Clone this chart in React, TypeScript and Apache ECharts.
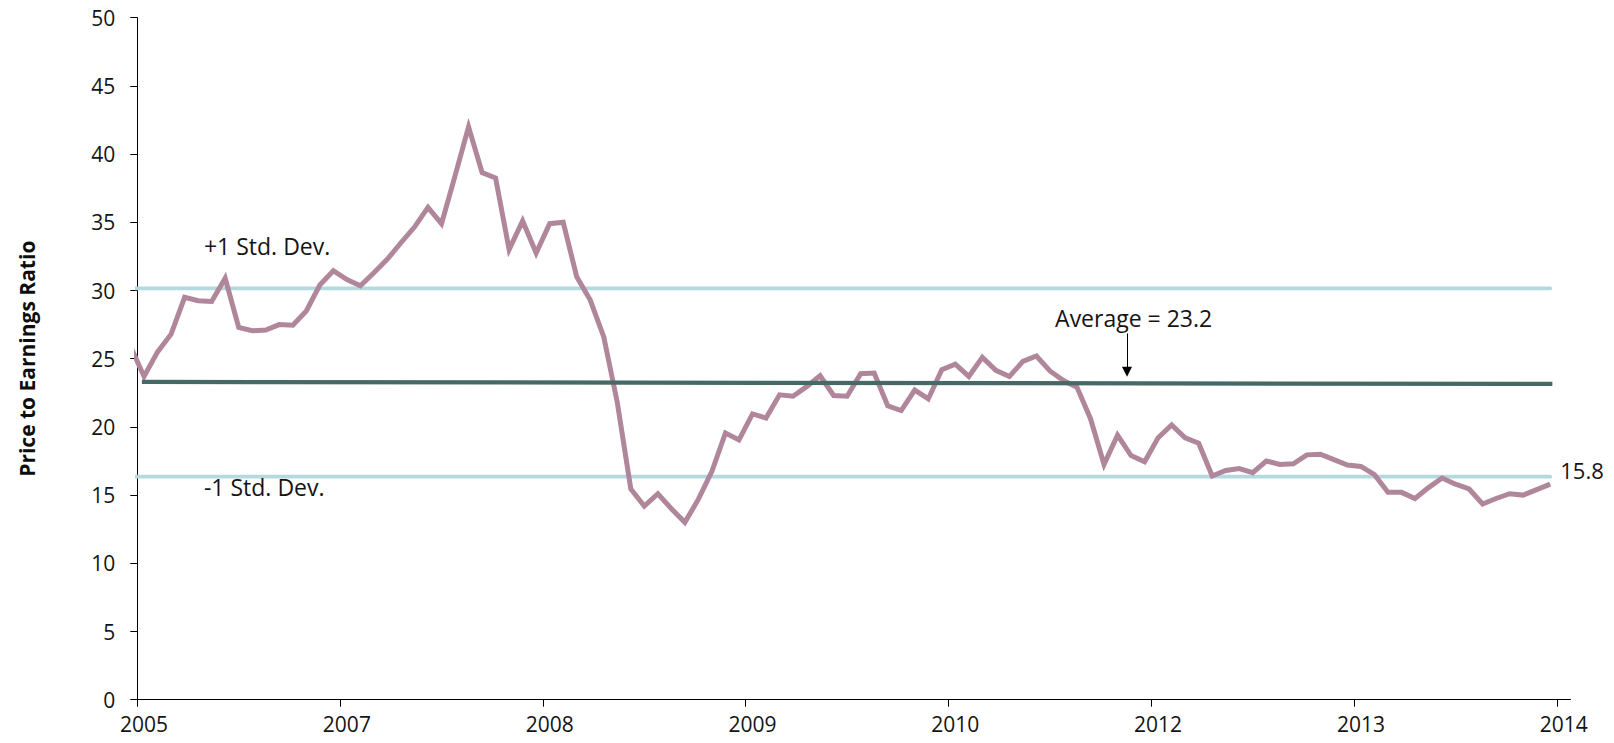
import React, { useEffect, useRef } from "react";
import * as echarts from "echarts";

// Axis layout in "category slots" (each slot = one observation)
const SLOT_COUNT = 106;
const TICK_EVERY = 15;
const YEAR_LABELS = ["2005", "2007", "2008", "2009", "2010", "2012", "2013", "2014"];
const Y_TICKS = [0, 5, 10, 15, 20, 25, 30, 35, 40, 45, 50];

// Price to Earnings ratio, one value per slot (first value sits just before the axis start)
const PE_VALUES = [
  25.9, 23.7, 25.5, 26.8, 29.5, 29.25, 29.2, 30.9, 27.3, 27.05,
  27.1, 27.5, 27.45, 28.5, 30.4, 31.45, 30.8, 30.35, 31.3, 32.3,
  33.5, 34.65, 36.1, 34.9, 38.4, 42.0, 38.65, 38.25, 33.0, 35.1,
  32.75, 34.9, 35.0, 31.0, 29.3, 26.6, 21.8, 15.45, 14.2, 15.1,
  14.0, 13.0, 14.7, 16.75, 19.55, 19.05, 20.95, 20.65, 22.35, 22.25,
  22.95, 23.75, 22.3, 22.25, 23.9, 23.95, 21.55, 21.2, 22.7, 22.05,
  24.2, 24.6, 23.7, 25.1, 24.15, 23.7, 24.8, 25.2, 24.1, 23.4,
  22.9, 20.6, 17.25, 19.4, 17.9, 17.45, 19.2, 20.15, 19.2, 18.8,
  16.4, 16.8, 16.95, 16.65, 17.5, 17.25, 17.3, 17.95, 18.0, 17.6,
  17.2, 17.1, 16.5, 15.2, 15.2, 14.75, 15.55, 16.25, 15.8, 15.45,
  14.35, 14.75, 15.1, 15.0, 15.4, 15.8,
];

const PLUS_ONE_SD = 30.15;
const MINUS_ONE_SD = 16.35;
const AVERAGE_START = 23.3;
const AVERAGE_END = 23.15;
const AVERAGE_LABEL = "Average = 23.2";
const PLUS_LABEL = "+1 Std. Dev.";
const MINUS_LABEL = "-1 Std. Dev.";

const FONT = "'Open Sans', 'DejaVu Sans', sans-serif";
const TEXT_COLOR = "#141414";
const PE_COLOR = "#b0869b";
const SD_COLOR = "#b4d9df";
const AVG_COLOR = "#466965";

export default function App() {
  const ref = useRef<HTMLDivElement>(null);

  useEffect(() => {
    if (!ref.current) return;
    const chart = echarts.init(ref.current, undefined, { renderer: "svg" });

    const peData = PE_VALUES.map((v, i) => [i - 0.5, v]);
    const firstX = peData[0][0];
    const lastX = peData[peData.length - 1][0];
    const tickValues: number[] = [];
    for (let k = 0; k * TICK_EVERY < SLOT_COUNT; k++) tickValues.push(k * TICK_EVERY);
    const labelValues = tickValues.map((t) => t + 0.5);

    const textLabel = {
      show: true,
      position: "inside" as const,
      align: "left" as const,
      verticalAlign: "middle" as const,
      color: TEXT_COLOR,
      fontSize: 23,
      fontFamily: FONT,
      formatter: "{b}",
    };

    const option: echarts.EChartsOption = {
      animation: false,
      backgroundColor: "#ffffff",
      grid: { left: 137.3, top: 17.7, width: 1433.2, height: 682, containLabel: false },
      xAxis: {
        type: "value",
        min: 0,
        max: SLOT_COUNT,
        axisLine: { show: true, onZero: false, lineStyle: { color: "#000", width: 1 } },
        axisTick: { show: true, length: 7, customValues: tickValues, lineStyle: { color: "#000" } } as any,
        axisLabel: {
          show: true,
          customValues: labelValues,
          margin: 14,
          color: TEXT_COLOR,
          fontSize: 21,
          fontFamily: FONT,
          formatter: (v: number) => YEAR_LABELS[Math.round((v - 0.5) / TICK_EVERY)] ?? "",
        } as any,
        splitLine: { show: false },
      },
      yAxis: {
        type: "value",
        min: Y_TICKS[0],
        max: Y_TICKS[Y_TICKS.length - 1],
        interval: Y_TICKS[1] - Y_TICKS[0],
        name: "Price to Earnings Ratio",
        nameLocation: "middle",
        nameGap: 100,
        nameTextStyle: { fontSize: 21, fontWeight: "bold", fontFamily: FONT, color: "#0d0d0d" },
        axisLine: { show: true, lineStyle: { color: "#000", width: 1 } },
        axisTick: { show: true, length: 7, lineStyle: { color: "#000" } },
        axisLabel: { margin: 22, color: TEXT_COLOR, fontSize: 21, fontFamily: FONT },
        splitLine: { show: false },
      },
      series: [
        {
          name: PLUS_LABEL,
          type: "line",
          data: [[firstX, PLUS_ONE_SD], [lastX, PLUS_ONE_SD]],
          symbol: "none",
          silent: true,
          z: 2,
          lineStyle: { color: SD_COLOR, width: 3.8, cap: "round" },
          markPoint: {
            symbol: "circle",
            symbolSize: 1,
            silent: true,
            itemStyle: { color: "rgba(0,0,0,0)" },
            label: textLabel,
            data: [{ name: PLUS_LABEL, coord: [4.93, 33.28] }],
          },
        },
        {
          name: MINUS_LABEL,
          type: "line",
          data: [[firstX, MINUS_ONE_SD], [lastX, MINUS_ONE_SD]],
          symbol: "none",
          silent: true,
          z: 2,
          lineStyle: { color: SD_COLOR, width: 3.8, cap: "round" },
          markPoint: {
            symbol: "circle",
            symbolSize: 1,
            silent: true,
            itemStyle: { color: "rgba(0,0,0,0)" },
            label: textLabel,
            data: [{ name: MINUS_LABEL, coord: [4.93, 15.62] }],
          },
        },
        {
          name: "P/E",
          type: "line",
          data: peData,
          symbol: "none",
          silent: true,
          z: 3,
          clip: true,
          lineStyle: { color: PE_COLOR, width: 5, join: "miter" } as any,
          endLabel: {
            show: true,
            distance: 10,
            offset: [0, -14],
            color: TEXT_COLOR,
            fontSize: 22,
            fontFamily: FONT,
            formatter: (p: any) => Number(p.value[1]).toFixed(1),
          },
        },
        {
          name: "Average",
          type: "line",
          data: [[peData[1][0], AVERAGE_START], [lastX, AVERAGE_END]],
          symbol: "none",
          silent: true,
          z: 4,
          lineStyle: { color: AVG_COLOR, width: 4.3, cap: "square" },
          markLine: {
            silent: true,
            symbol: ["none", "triangle"],
            symbolSize: 10,
            lineStyle: { color: "#000", width: 1, type: "solid" },
            label: { show: false },
            emphasis: { disabled: true },
            data: [[{ coord: [73.2, 26.85] }, { coord: [73.2, 24.05] }]] as any,
          },
          markPoint: {
            symbol: "circle",
            symbolSize: 1,
            silent: true,
            itemStyle: { color: "rgba(0,0,0,0)" },
            label: textLabel,
            data: [{ name: AVERAGE_LABEL, coord: [67.88, 28.0] }],
          },
        },
      ],
    };

    chart.setOption(option);
    return () => chart.dispose();
  }, []);

  return (
    <div
      ref={ref}
      style={{ position: "fixed", left: 0, top: 0, width: 1614, height: 743, background: "#fff" }}
    />
  );
}
